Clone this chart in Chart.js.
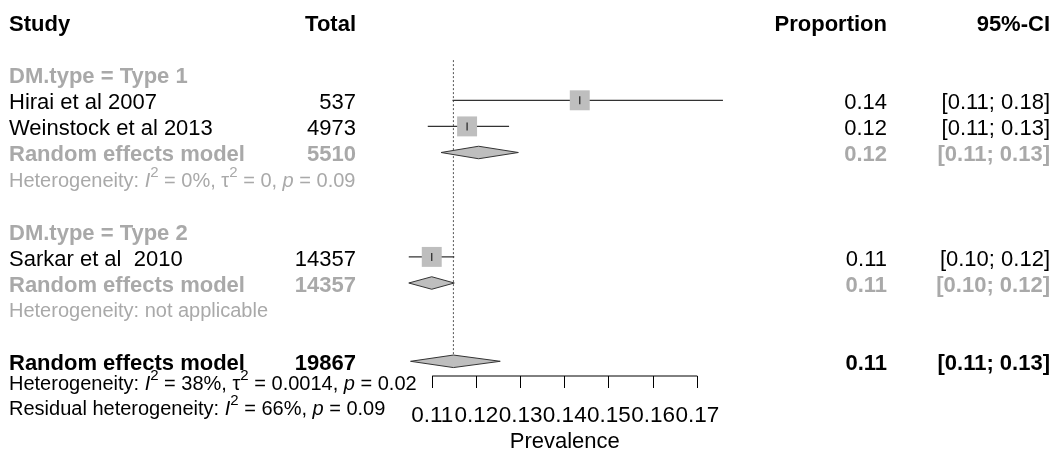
<!DOCTYPE html>
<html>
<head>
<meta charset="utf-8">
<script src="https://cdn.jsdelivr.net/npm/chart.js@4.4.0/dist/chart.umd.min.js"></script>
<style>
  html, body { margin: 0; padding: 0; background: #fff; }
  #wrap { width: 1059px; height: 453px; }
</style>
</head>
<body>
<div id="wrap"><canvas id="forest" width="1059" height="453"></canvas></div>
<script>
// estudos individuais
const studyLabels = ['Hirai et al 2007', 'Weinstock et al 2013', 'Sarkar et al  2010'];
const studyTotals = ['537', '4973', '14357'];
const studyRows = [3, 4, 9];
const studyEst = [0.1434, 0.1179, 0.1099];
const studyLower = [0.1146, 0.1090, 0.1047];
const studyUpper = [0.1758, 0.1274, 0.1150];
const studyProp = ['0.14', '0.12', '0.11'];
const studyCI = ['[0.11; 0.18]', '[0.11; 0.13]', '[0.10; 0.12]'];

// modelos de efeitos aleatórios (subgrupos e geral)
const poolLabels = ['Random effects model', 'Random effects model', 'Random effects model'];
const poolTotals = ['5510', '14357', '19867'];
const poolRows = [5, 10, 13];
const poolEst = [0.1205, 0.1099, 0.1148];
const poolLower = [0.1120, 0.1047, 0.1051];
const poolUpper = [0.1295, 0.1150, 0.1254];
const poolProp = ['0.12', '0.11', '0.11'];
const poolCI = ['[0.11; 0.13]', '[0.10; 0.12]', '[0.11; 0.13]'];
const poolOverall = [false, false, true];

// subgrupos
const groupLabels = ['DM.type = Type 1', 'DM.type = Type 2'];
const groupRows = [2, 8];

// heterogeneidade (*x* = itálico, ^x^ = expoente)
const hetTexts = [
  'Heterogeneity: *I*^2^ = 0%, τ^2^ = 0, *p* = 0.09',
  'Heterogeneity: not applicable',
  'Heterogeneity: *I*^2^ = 38%, τ^2^ = 0.0014, *p* = 0.02',
  'Residual heterogeneity: *I*^2^ = 66%, *p* = 0.09'
];
const hetRows = [6, 11, 13.8, 14.75];
const hetOverall = [false, false, true, true];

const headerLabels = ['Study', 'Total', 'Proportion', '95%-CI'];
const tickValues = [0.11, 0.12, 0.13, 0.14, 0.15, 0.16, 0.17];
const tickLabels = ['0.11', '0.12', '0.13', '0.14', '0.15', '0.16', '0.17'];
const axisTitle = 'Prevalence';
const refValue = 0.1148;
const refRows = [1.46, 13];

// estilos
const FONT = '"Liberation Sans", Arial, sans-serif';
const GRAY = '#a9a9a9';
const BOX = '#bebebe';
const ROW_PX = 26.1;
const ROW0_PX = 22;
const AXIS_H = 77;
const DIAMOND_H = 0.24; // meia altura do losango, em linhas
const colX = { study: 9, total: 356, prop: 887, ci: 1050 };

const yMin = -ROW0_PX / ROW_PX;
const yMax = yMin + (453 - AXIS_H) / ROW_PX;

const datasets = [];

// linha do eixo, só entre o primeiro e o último tick
datasets.push({
  data: [{ x: tickValues[0], y: yMax }, { x: tickValues[tickValues.length - 1], y: yMax }],
  showLine: true, borderColor: '#000', borderWidth: 1,
  pointRadius: 0, clip: false, order: 7
});

// linha pontilhada do efeito geral
datasets.push({
  data: refRows.map(r => ({ x: refValue, y: r })),
  showLine: true, borderColor: '#555', borderWidth: 1, borderDash: [2, 2],
  pointRadius: 0, clip: false, order: 6
});

// intervalos de confiança
studyRows.forEach((r, i) => {
  datasets.push({
    data: [{ x: studyLower[i], y: r }, { x: studyUpper[i], y: r }],
    showLine: true, borderColor: '#333', borderWidth: 1.2,
    pointRadius: 0, clip: false, order: 5
  });
});

// quadrados
const estPoints = studyRows.map((r, i) => ({ x: studyEst[i], y: r }));
datasets.push({
  data: estPoints,
  pointStyle: 'rect', pointRadius: 14.1,
  pointBackgroundColor: BOX, pointBorderColor: BOX, pointBorderWidth: 0,
  clip: false, order: 4
});
// marca vertical do estimador
datasets.push({
  data: estPoints,
  pointStyle: 'line', pointRotation: 90, pointRadius: 4,
  pointBorderColor: '#222', pointBorderWidth: 1.2,
  clip: false, order: 3
});

// losangos
poolRows.forEach((r, i) => {
  datasets.push({
    data: [
      { x: poolLower[i], y: r },
      { x: poolEst[i], y: r - DIAMOND_H },
      { x: poolUpper[i], y: r },
      { x: poolEst[i], y: r + DIAMOND_H },
      { x: poolLower[i], y: r }
    ],
    showLine: true, fill: 'shape', tension: 0,
    backgroundColor: BOX, borderColor: '#333', borderWidth: 1,
    pointRadius: 0, clip: false, order: 2
  });
});

function fontStr(size, bold, italic) {
  return (italic ? 'italic ' : '') + (bold ? 'bold ' : '') + size + 'px ' + FONT;
}

const textPlugin = {
  id: 'forestText',
  afterDraw(chart) {
    const ctx = chart.ctx;
    const ys = chart.scales.y;
    // linha de base alfabética para centrar as maiúsculas na linha
    const base = (r, size) => ys.getPixelForValue(r) + 1 + size * 0.358;

    function put(txt, x, r, align, bold, color, size) {
      ctx.font = fontStr(size, bold, false);
      ctx.fillStyle = color;
      ctx.textAlign = align;
      ctx.textBaseline = 'alphabetic';
      ctx.fillText(txt, x, base(r, size));
    }

    function rich(txt, x, r, color, size) {
      const parts = txt.split(/(\*[^*]+\*|\^[^^]+\^)/).filter(p => p.length);
      const y0 = base(r, size);
      ctx.fillStyle = color;
      ctx.textAlign = 'left';
      ctx.textBaseline = 'alphabetic';
      let cx = x;
      parts.forEach(p => {
        let s = p, sz = size, it = false, dy = 0;
        if (p[0] === '*') { s = p.slice(1, -1); it = true; }
        else if (p[0] === '^') { s = p.slice(1, -1); sz = size * 0.75; dy = -size * 0.5; }
        ctx.font = fontStr(sz, false, it);
        ctx.fillText(s, cx, y0 + dy);
        cx += ctx.measureText(s).width;
      });
    }

    ctx.save();
    // cabeçalho
    put(headerLabels[0], colX.study, 0, 'left', true, '#000', 22);
    put(headerLabels[1], colX.total, 0, 'right', true, '#000', 22);
    put(headerLabels[2], colX.prop, 0, 'right', true, '#000', 22);
    put(headerLabels[3], colX.ci, 0, 'right', true, '#000', 22);

    groupLabels.forEach((g, i) => put(g, colX.study, groupRows[i], 'left', true, GRAY, 22));

    studyRows.forEach((r, i) => {
      put(studyLabels[i], colX.study, r, 'left', false, '#000', 22);
      put(studyTotals[i], colX.total, r, 'right', false, '#000', 22);
      put(studyProp[i], colX.prop, r, 'right', false, '#000', 22);
      put(studyCI[i], colX.ci, r, 'right', false, '#000', 22);
    });

    poolRows.forEach((r, i) => {
      const c = poolOverall[i] ? '#000' : GRAY;
      put(poolLabels[i], colX.study, r, 'left', true, c, 22);
      put(poolTotals[i], colX.total, r, 'right', true, c, 22);
      put(poolProp[i], colX.prop, r, 'right', true, c, 22);
      put(poolCI[i], colX.ci, r, 'right', true, c, 22);
    });

    hetRows.forEach((r, i) => rich(hetTexts[i], colX.study, r, hetOverall[i] ? '#000' : GRAY, 20));
    ctx.restore();
  }
};

new Chart(document.getElementById('forest'), {
  type: 'scatter',
  data: { datasets: datasets },
  plugins: [textPlugin],
  options: {
    responsive: false,
    devicePixelRatio: 1,
    animation: false,
    events: [],
    // área do gráfico de 0.10 a 0.18 para os losangos não serem cortados
    layout: { autoPadding: false, padding: { left: 388, right: 317.5, top: 0, bottom: 0 } },
    plugins: { legend: { display: false }, tooltip: { enabled: false } },
    scales: {
      x: {
        type: 'linear',
        min: 0.10,
        max: 0.18,
        afterBuildTicks: s => { s.ticks = tickValues.map(v => ({ value: v })); },
        afterFit: s => { s.height = AXIS_H; },
        ticks: {
          autoSkip: false, maxRotation: 0, minRotation: 0, padding: 14,
          color: '#000', font: { family: FONT, size: 22.5 },
          callback: (v, i) => tickLabels[i]
        },
        grid: { drawOnChartArea: false, drawTicks: true, tickLength: 12, color: '#000', tickWidth: 1 },
        border: { display: false },
        title: {
          display: true, text: axisTitle, color: '#000',
          font: { family: FONT, size: 22, lineHeight: 1 },
          padding: { top: 0, bottom: 0 }
        }
      },
      y: { type: 'linear', display: false, reverse: true, min: yMin, max: yMax }
    }
  }
});
</script>
</body>
</html>
